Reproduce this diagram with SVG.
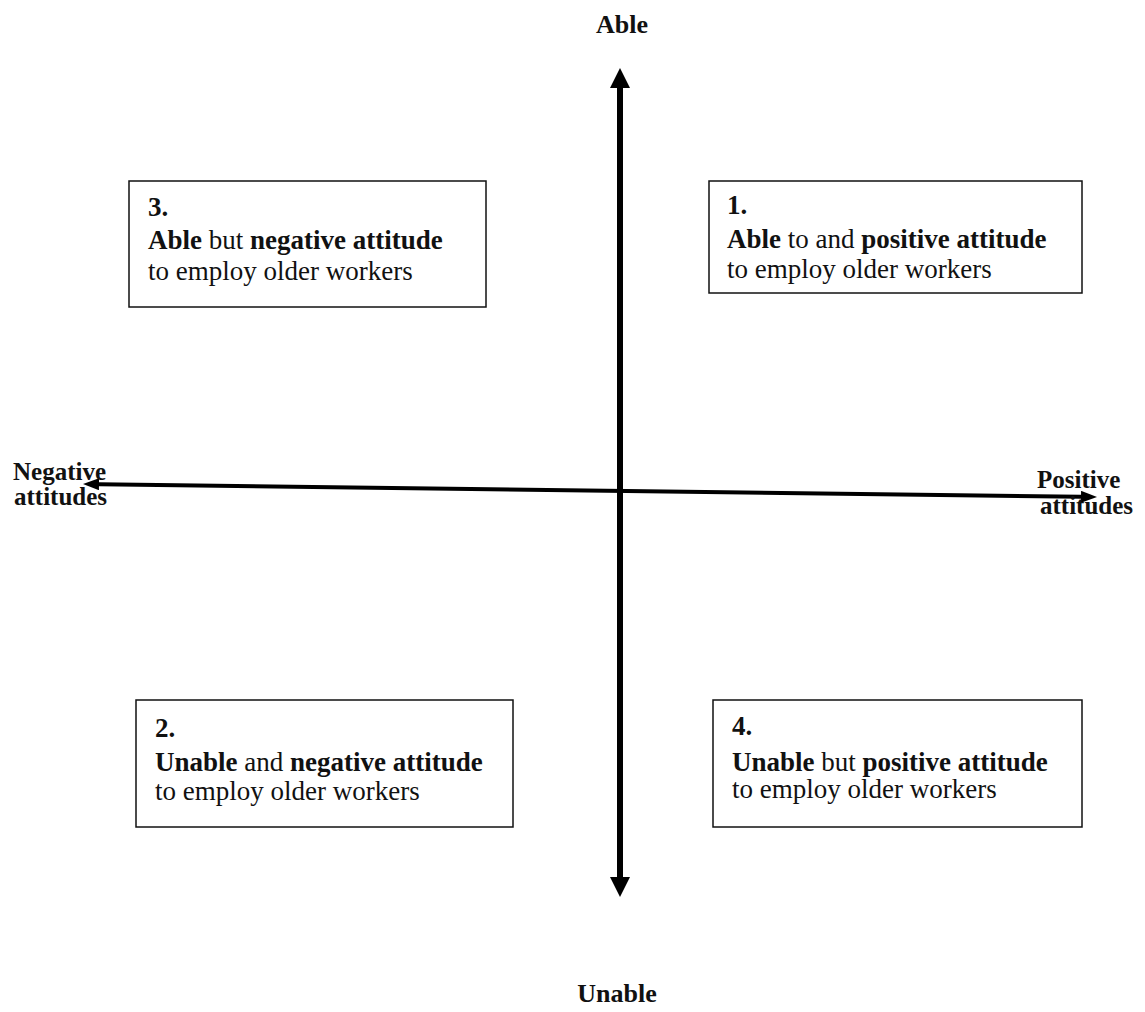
<svg xmlns="http://www.w3.org/2000/svg" width="1145" height="1012" viewBox="0 0 1145 1012">
<style>
text { font-family: "Liberation Serif", "Times New Roman", serif; fill: #111; }
.body { font-size: 27px; }
.b { font-weight: bold; }
.lab { font-size: 25px; font-weight: bold; }
.labv { font-size: 26px; font-weight: bold; }
.box { fill: #fff; stroke: #111; stroke-width: 1.5; }
.axisV { stroke: #000; stroke-width: 6; fill: none; }
.axisH { stroke: #000; stroke-width: 4; fill: none; }
</style>
<defs>
<marker id="arrBig" viewBox="0 0 20 20" markerWidth="20" markerHeight="20" markerUnits="userSpaceOnUse" refX="0" refY="10" orient="auto-start-reverse">
<path d="M0,0 L20,10 L0,20 z" fill="#000"/>
</marker>
<marker id="arrSmall" viewBox="0 0 16 12" markerWidth="16" markerHeight="12" markerUnits="userSpaceOnUse" refX="0" refY="6" orient="auto-start-reverse">
<path d="M0,0 L16,6 L0,12 z" fill="#000"/>
</marker>
</defs>
<rect width="1145" height="1012" fill="#fff"/>
<g id="connectors">
<line class="axisV" x1="620" y1="88" x2="620" y2="877" marker-start="url(#arrBig)" marker-end="url(#arrBig)"/>
<line class="axisH" x1="99" y1="484.2" x2="1081" y2="496.8" marker-start="url(#arrSmall)" marker-end="url(#arrSmall)"/>
</g>
<g id="label-able"><text class="labv" x="622" y="33" text-anchor="middle">Able</text></g>
<g id="label-unable"><text class="labv" x="617" y="1002" text-anchor="middle">Unable</text></g>
<g id="label-negative"><text class="lab" x="13" y="480">Negative</text><text class="lab" x="14" y="505">attitudes</text></g>
<g id="label-positive"><text class="lab" x="1037" y="488">Positive</text><text class="lab" x="1040" y="514">attitudes</text></g>
<g id="box3">
<rect class="box" x="129" y="181" width="357" height="126"/>
<text class="body b" x="148" y="216">3.</text>
<text class="body" x="148" y="249"><tspan class="b">Able</tspan> but <tspan class="b">negative attitude</tspan></text>
<text class="body" x="148" y="280">to employ older workers</text>
</g>
<g id="box1">
<rect class="box" x="709" y="181" width="373" height="112"/>
<text class="body b" x="727" y="214">1.</text>
<text class="body" x="727" y="248"><tspan class="b">Able</tspan> to and <tspan class="b">positive attitude</tspan></text>
<text class="body" x="727" y="278">to employ older workers</text>
</g>
<g id="box2">
<rect class="box" x="136" y="700" width="377" height="127"/>
<text class="body b" x="155" y="737">2.</text>
<text class="body" x="155" y="771"><tspan class="b">Unable</tspan> and <tspan class="b">negative attitude</tspan></text>
<text class="body" x="155" y="800">to employ older workers</text>
</g>
<g id="box4">
<rect class="box" x="713" y="700" width="369" height="127"/>
<text class="body b" x="732" y="735">4.</text>
<text class="body" x="732" y="771"><tspan class="b">Unable</tspan> but <tspan class="b">positive attitude</tspan></text>
<text class="body" x="732" y="798">to employ older workers</text>
</g>
</svg>
